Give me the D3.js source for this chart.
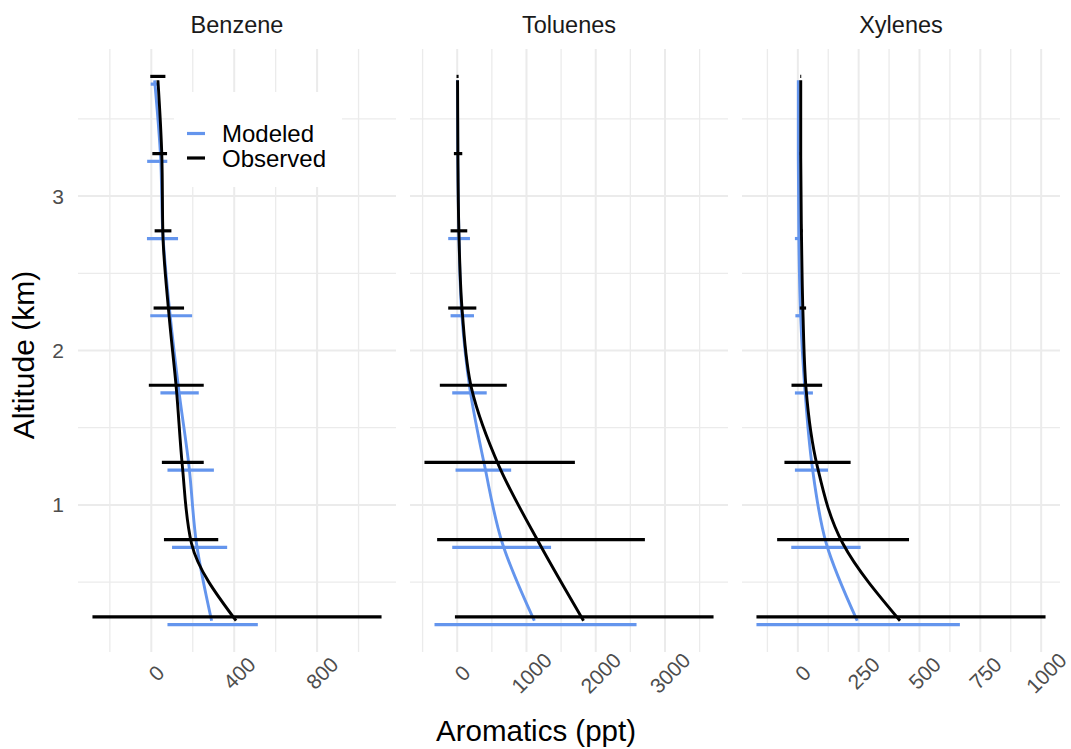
<!DOCTYPE html>
<html><head><meta charset="utf-8">
<script src="https://cdn.jsdelivr.net/npm/d3@7"></script>
<style>body{margin:0;background:#fff}svg{display:block}text{font-family:"Liberation Sans",Arial,Helvetica,sans-serif}</style>
</head><body><svg id="c" width="1071" height="749"></svg>
<script>
const altitudes = [0.25, 0.75, 1.25, 1.75, 2.25, 2.75, 3.25, 3.75];
const species = ["Benzene", "Toluenes", "Xylenes"];
const seriesNames = ["Modeled", "Observed"];
const seriesColors = ["#6495ED", "#000000"];

const benzeneObsMean = [409, 194, 150, 121, 84, 56, 51, 32];
const benzeneObsLo   = [-284, 61, 51, -12, 11, 16, 5, -5];
const benzeneObsHi   = [1111, 323, 253, 253, 158, 97, 76, 68];
const benzeneModMean = [291, 218, 182, 132, 89, 56, 45, 16];
const benzeneModLo   = [78, 100, 78, 44, -5, -21, -20, -3];
const benzeneModHi   = [514, 366, 302, 229, 197, 129, 77, 37];

const tolueneObsMean = [1824, 1186, 605, 209, 73, 25, 10, 5];
const tolueneObsLo   = [-33, -290, -473, -251, -130, -96, -48, -10];
const tolueneObsHi   = [3701, 2710, 1699, 716, 276, 145, 73, 20];
const tolueneModMean = [1113, 653, 397, 184, 64, 25, 8, 3];
const tolueneModLo   = [-328, -72, -24, -72, -96, -130, -2, -2];
const tolueneModHi   = [2589, 1355, 779, 426, 242, 184, 18, 8];

const xyleneObsMean = [420, 185, 80, 34, 21, 15, 12, 12];
const xyleneObsLo   = [-170, -85, -55, -26, 8, 10, 8, 10];
const xyleneObsHi   = [1018, 457, 217, 100, 34, 20, 16, 14];
const xyleneModMean = [244, 117, 59, 29, 11, 4, 2, 2];
const xyleneModLo   = [-170, -27, -12, -12, -10, -12, -2, 0];
const xyleneModHi   = [666, 258, 124, 62, 25, 21, 6, 4];

const xTicksMajor = [[0, 400, 800], [0, 1000, 2000, 3000], [0, 250, 500, 750, 1000]];
const xTicksMinor = [[-200, 200, 600, 1000], [-500, 500, 1500, 2500, 3500], [-125, 125, 375, 625, 875]];
const yTicksMajor = [1, 2, 3];
const yTicksMinor = [0.5, 1.5, 2.5, 3.5];
const dodgeWidth = 0.05;

const panelsData = [
  {mod: [benzeneModMean, benzeneModLo, benzeneModHi], obs: [benzeneObsMean, benzeneObsLo, benzeneObsHi]},
  {mod: [tolueneModMean, tolueneModLo, tolueneModHi], obs: [tolueneObsMean, tolueneObsLo, tolueneObsHi]},
  {mod: [xyleneModMean, xyleneModLo, xyleneModHi], obs: [xyleneObsMean, xyleneObsLo, xyleneObsHi]}
];

const svg = d3.select("#c");
const pTop = 49, pBottom = 652, panelW = 318, gap = 14, left0 = 78;
const gridCol = "#ebebeb";

const altMin = d3.min(altitudes) - dodgeWidth/2, altMax = d3.max(altitudes) + dodgeWidth/2;
const altPad = (altMax - altMin) * 0.05;
const y = d3.scaleLinear().domain([altMin - altPad, altMax + altPad]).range([pBottom, pTop]);

panelsData.forEach((pd, i) => {
  const x0 = left0 + i * (panelW + gap);
  const lo = d3.min([...pd.mod[1], ...pd.obs[1]]);
  const hi = d3.max([...pd.mod[2], ...pd.obs[2]]);
  const pad = (hi - lo) * 0.05;
  const x = d3.scaleLinear().domain([lo - pad, hi + pad]).range([x0, x0 + panelW]);
  const g = svg.append("g");

  g.selectAll(".hmin").data(yTicksMinor).join("line")
    .attr("x1", x0).attr("x2", x0 + panelW).attr("y1", d => y(d)).attr("y2", d => y(d))
    .attr("stroke", gridCol).attr("stroke-width", 1.3);
  g.selectAll(".vmin").data(xTicksMinor[i].filter(t => t >= x.domain()[0] && t <= x.domain()[1])).join("line")
    .attr("y1", pTop).attr("y2", pBottom).attr("x1", d => x(d)).attr("x2", d => x(d))
    .attr("stroke", gridCol).attr("stroke-width", 1.3);
  g.selectAll(".hmaj").data(yTicksMajor).join("line")
    .attr("x1", x0).attr("x2", x0 + panelW).attr("y1", d => y(d)).attr("y2", d => y(d))
    .attr("stroke", gridCol).attr("stroke-width", 2);
  g.selectAll(".vmaj").data(xTicksMajor[i]).join("line")
    .attr("y1", pTop).attr("y2", pBottom).attr("x1", d => x(d)).attr("x2", d => x(d))
    .attr("stroke", gridCol).attr("stroke-width", 2);

  svg.append("text").attr("x", x0 + panelW/2).attr("y", 33).attr("text-anchor", "middle")
    .attr("font-size", 23.5).attr("fill", "#1a1a1a").text(species[i]);

  xTicksMajor[i].forEach(t => {
    svg.append("text").attr("transform", `translate(${x(t) + 5},673) rotate(-45)`)
      .attr("text-anchor", "middle").attr("dominant-baseline", "central")
      .attr("font-size", 21).attr("fill", "#4d4d4d").text(t);
  });

  if (i === 0) {
    svg.append("rect").attr("x", 174).attr("y", 92).attr("width", 168).attr("height", 95).attr("fill", "#fff");
  }

  [["mod", 0, -1], ["obs", 1, 1]].forEach(([key, ci, sgn]) => {
    const [mean, l, h] = pd[key];
    const col = seriesColors[ci];
    const gs = svg.append("g");
    gs.selectAll("line").data(altitudes).join("line")
      .attr("x1", (d, k) => x(l[k])).attr("x2", (d, k) => x(h[k]))
      .attr("y1", d => y(d + sgn * dodgeWidth/2)).attr("y2", d => y(d + sgn * dodgeWidth/2))
      .attr("stroke", col).attr("stroke-width", 3.2);
    const pts = altitudes.map((a, k) => [mean[k], a]);
    gs.append("path").datum(pts)
      .attr("d", d3.line().x(d => x(d[0])).y(d => y(d[1])).curve(d3.curveMonotoneY))
      .attr("fill", "none").attr("stroke", col).attr("stroke-width", 2.9);
  });
});

yTicksMajor.forEach(t => {
  svg.append("text").attr("x", 64).attr("y", y(t)).attr("text-anchor", "end")
    .attr("dominant-baseline", "central").attr("font-size", 21).attr("fill", "#4d4d4d").text(t);
});

seriesNames.forEach((n, k) => {
  const ly = 133.5 + k * 24.5;
  svg.append("line").attr("x1", 187).attr("x2", 205).attr("y1", ly).attr("y2", ly)
    .attr("stroke", seriesColors[k]).attr("stroke-width", 3.2);
  svg.append("text").attr("x", 222).attr("y", ly).attr("dominant-baseline", "central")
    .attr("font-size", 24).attr("fill", "#000").text(n);
});

svg.append("text").attr("x", 536).attr("y", 741).attr("text-anchor", "middle")
  .attr("font-size", 29.5).attr("fill", "#000").text("Aromatics (ppt)");
svg.append("text").attr("transform", "translate(34,355) rotate(-90)").attr("text-anchor", "middle")
  .attr("font-size", 30).attr("fill", "#000").text("Altitude (km)");
</script></body></html>
